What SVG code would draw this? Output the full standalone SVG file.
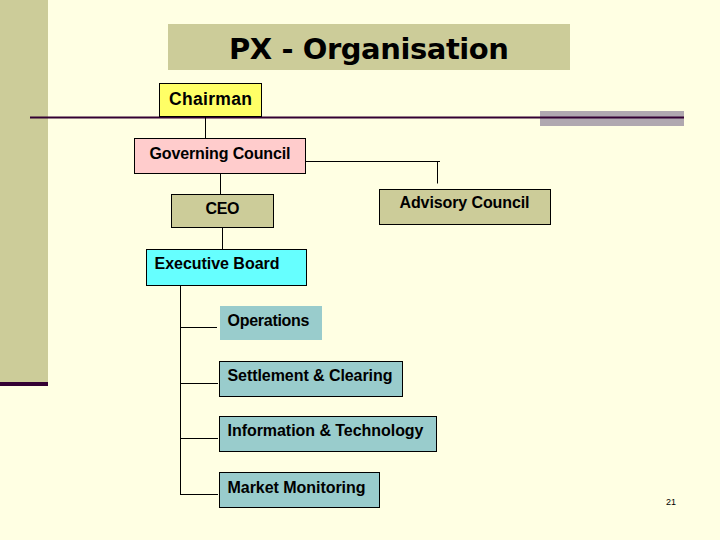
<svg xmlns="http://www.w3.org/2000/svg" width="720" height="540" viewBox="0 0 720 540">
<style>
.box{stroke:#000;stroke-width:1}
.lbl{font-family:"Liberation Sans",Arial,sans-serif;font-weight:bold;font-size:16px;fill:#000}
.conn line{stroke:#000;stroke-width:1}
</style>
<rect x="0" y="0" width="720" height="540" fill="#FFFFE3"/>
<rect x="0" y="0" width="48" height="382" fill="#CCCC99"/>
<rect x="0" y="382" width="48" height="4" fill="#330033"/>
<rect x="540" y="111" width="144" height="15" fill="#B0A8B0"/>
<line x1="30" y1="117.5" x2="684" y2="117.5" stroke="#330033" stroke-width="2"/>
<g id="title">
<rect x="168" y="24" width="402" height="46" fill="#CCCC99"/>
<text x="369" y="59" text-anchor="middle" font-family="'DejaVu Sans',Verdana,sans-serif" font-weight="bold" font-size="29" textLength="280" fill="#000">PX - Organisation</text>
</g>
<g class="conn" id="connectors">
<line x1="205.5" y1="117" x2="205.5" y2="138"/>
<line x1="305.5" y1="161.5" x2="440" y2="161.5"/>
<line x1="437.5" y1="161.5" x2="437.5" y2="183.5"/>
<line x1="220.5" y1="173.5" x2="220.5" y2="194"/>
<line x1="222.5" y1="227" x2="222.5" y2="252"/>
<line x1="180.5" y1="283" x2="180.5" y2="494.5"/>
<line x1="180" y1="327.5" x2="217" y2="327.5"/>
<line x1="180" y1="383.5" x2="218" y2="383.5"/>
<line x1="180" y1="438.5" x2="218" y2="438.5"/>
<line x1="180" y1="494.5" x2="218" y2="494.5"/>
</g>
<g id="chairman">
<rect class="box" x="159.5" y="83.5" width="102" height="33" fill="#FFFF66"/>
<text class="lbl" x="210.5" y="104.5" text-anchor="middle" style="font-size:17.5px" textLength="83">Chairman</text>
</g>
<g id="governing-council">
<rect class="box" x="134.5" y="138.5" width="171" height="35" fill="#FFCCCC"/>
<text class="lbl" x="220" y="159" text-anchor="middle" textLength="141">Governing Council</text>
</g>
<g id="advisory-council">
<rect class="box" x="379.5" y="189.5" width="171" height="35" fill="#CCCC99"/>
<text class="lbl" x="464.5" y="208" text-anchor="middle" textLength="130">Advisory Council</text>
</g>
<g id="ceo">
<rect class="box" x="171.5" y="194.5" width="102" height="33" fill="#CCCC99"/>
<text class="lbl" x="222.5" y="213.5" text-anchor="middle" textLength="34">CEO</text>
</g>
<g id="executive-board">
<rect class="box" x="146.5" y="249.5" width="160" height="36" fill="#66FFFF"/>
<text class="lbl" x="154.5" y="269" textLength="125">Executive Board</text>
</g>
<g id="operations">
<rect x="220" y="306" width="102" height="34" fill="#99CCCC"/>
<text class="lbl" x="227.5" y="325.5" textLength="82">Operations</text>
</g>
<g id="settlement-clearing">
<rect class="box" x="219.5" y="361.5" width="183" height="35" fill="#99CCCC"/>
<text class="lbl" x="227.5" y="380.5" textLength="165">Settlement &amp; Clearing</text>
</g>
<g id="information-technology">
<rect class="box" x="219.5" y="416.5" width="217" height="35" fill="#99CCCC"/>
<text class="lbl" x="227.5" y="436" textLength="196">Information &amp; Technology</text>
</g>
<g id="market-monitoring">
<rect class="box" x="219.5" y="472.5" width="160" height="35" fill="#99CCCC"/>
<text class="lbl" x="227.5" y="492.5" textLength="138">Market Monitoring</text>
</g>
<text x="666" y="504.5" font-family="'Liberation Sans',Arial,sans-serif" font-size="9" fill="#000">21</text>
</svg>
